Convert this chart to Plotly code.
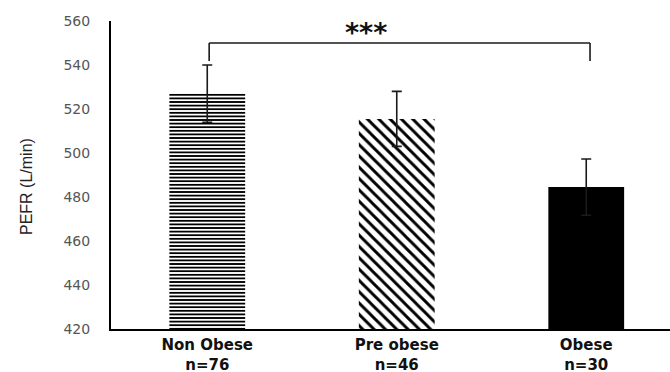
import plotly.graph_objects as go

# Peak expiratory flow rate by BMI group
groups = ["Non Obese", "Pre obese", "Obese"]
group_n = [76, 46, 30]
pefr_mean = [527.0, 515.5, 484.5]
pefr_err = [13.0, 12.5, 12.8]
y_ticks = [420, 440, 460, 480, 500, 520, 540, 560]

positions = list(range(len(groups)))
tick_text = [f"{g}<br>n={n}" for g, n in zip(groups, group_n)]

fills = [
    dict(shape="-", size=3.6, solidity=0.5),
    dict(shape="\\", size=8, solidity=0.36),
    dict(shape="", size=8, solidity=1),
]

fig = go.Figure()
for i, pos in enumerate(positions):
    fig.add_trace(go.Bar(
        x=[pos],
        y=[pefr_mean[i]],
        width=0.4,
        marker=dict(
            color="#000000",
            line=dict(width=0),
            pattern=dict(fgcolor="#000000", bgcolor="#ffffff",
                         fillmode="replace", **fills[i]),
        ),
        error_y=dict(type="data", array=[pefr_err[i]], visible=True,
                     color="#1a1a1a", thickness=1.6, width=5),
        showlegend=False,
    ))

# significance bracket between the first and last groups
bracket_y = 550
bracket_drop = 541.8
left_x, right_x = positions[0] + 0.01, positions[2] + 0.02
for seg in [(left_x, bracket_drop, left_x, bracket_y),
            (left_x, bracket_y, right_x, bracket_y),
            (right_x, bracket_y, right_x, bracket_drop)]:
    fig.add_shape(type="line", xref="x", yref="y",
                  x0=seg[0], y0=seg[1], x1=seg[2], y1=seg[3],
                  line=dict(color="#1a1a1a", width=1.6))

fig.add_annotation(x=(positions[0] + positions[2]) / 2 - 0.16, y=555.0,
                   xref="x", yref="y", text="***", showarrow=False,
                   font=dict(family="DejaVu Sans", size=27, color="#111111",
                             weight="bold"))

fig.add_annotation(x=0, y=0.5, xref="paper", yref="paper", xshift=-85, yshift=-12,
                   xanchor="center", text="PEFR (L/min)", textangle=-90,
                   showarrow=False,
                   font=dict(family="Liberation Sans", size=16, color="#222222"))

fig.update_layout(
    width=670, height=372,
    margin=dict(l=111, r=0, t=21, b=43),
    plot_bgcolor="#ffffff", paper_bgcolor="#ffffff",
    bargap=0.6,
)
fig.update_xaxes(
    range=[-0.508, 2.442], tickvals=positions, ticktext=tick_text,
    showline=True, linecolor="#000000", linewidth=2, automargin=False,
    showgrid=False, zeroline=False, ticks="", ticklabelstandoff=1,
    tickfont=dict(family="DejaVu Sans", size=15, color="#111111", weight="bold"),
)
fig.update_yaxes(
    range=[420, 560], tickvals=y_ticks,
    showline=True, linecolor="#000000", linewidth=2,
    showgrid=False, zeroline=False, ticks="", ticklabelstandoff=16,
    tickfont=dict(family="DejaVu Sans", size=14, color="#555555"),
)

fig.write_html("out.html")
